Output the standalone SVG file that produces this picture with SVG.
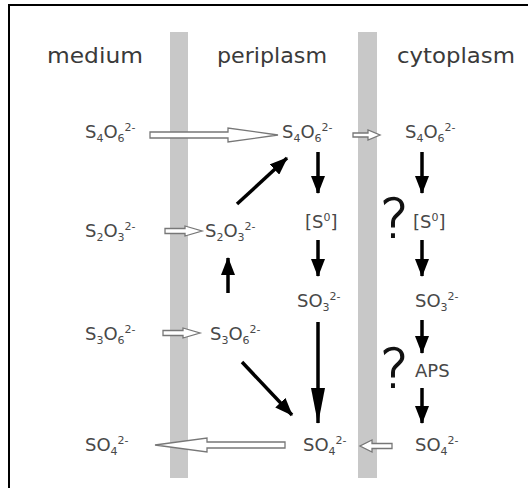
<svg xmlns="http://www.w3.org/2000/svg" width="528" height="488" viewBox="0 0 528 488">
<style>
.hdr{font-family:"DejaVu Sans",sans-serif;font-size:22px;fill:#3a3a3a;text-anchor:middle}
.f{font-family:"DejaVu Sans",sans-serif;font-size:18px;fill:#484848}
.s{font-size:11px}
.q{font-family:"DejaVu Sans",sans-serif;font-size:54px;font-weight:200;fill:#111;stroke:#111;stroke-width:1.3}
.mem{fill:#c8c8c8}
.open{fill:#fff;stroke:#777;stroke-width:1.3;stroke-linejoin:miter}
.blk{stroke:#000;stroke-width:3.5;fill:none}
</style>
<defs>
<marker id="ah" markerUnits="userSpaceOnUse" markerWidth="18" markerHeight="14" refX="17" refY="7" orient="auto">
<path d="M0,0 L18,7 L0,14 Z" fill="#000"/>
</marker>
<marker id="ahl" markerUnits="userSpaceOnUse" markerWidth="36" markerHeight="14" refX="35" refY="7" orient="auto">
<path d="M0,0 L36,7 L0,14 Z" fill="#000"/>
</marker>
</defs>
<rect x="0" y="0" width="528" height="488" fill="#fff"/>
<rect x="9" y="5" width="540" height="500" fill="none" stroke="#000" stroke-width="2"/>
<g id="membranes">
<rect class="mem" x="170" y="32" width="18" height="446"/>
<rect class="mem" x="358" y="32" width="19" height="446"/>
</g>
<g id="headers">
<text class="hdr" x="95" y="63" textLength="96" lengthAdjust="spacingAndGlyphs">medium</text>
<text class="hdr" x="272" y="63" textLength="110" lengthAdjust="spacingAndGlyphs">periplasm</text>
<text class="hdr" x="456" y="63" textLength="118" lengthAdjust="spacingAndGlyphs">cytoplasm</text>
</g>
<g id="connectors">
<path class="open" d="M150,132 H228 V128 L278,135 L228,142 V138 H150 Z"/>
<path class="open" d="M353,133 H368 V130 L380,135 L368,140 V137 H353 Z"/>
<path class="open" d="M165,228.5 H185 V226 L202,231 L185,236 V233.5 H165 Z"/>
<path class="open" d="M163,330.5 H183 V328 L200,333 L183,338 V335.5 H163 Z"/>
<path class="open" d="M285,442 H207 V438 L155,445 L207,452 V448 H285 Z"/>
<path class="open" d="M392,443.5 H372 V440 L360,446 L372,452 V448.5 H392 Z"/>
<line class="blk" x1="318" y1="152" x2="318" y2="193" marker-end="url(#ah)"/>
<line class="blk" x1="422" y1="152" x2="422" y2="193" marker-end="url(#ah)"/>
<line class="blk" x1="318" y1="240" x2="318" y2="276" marker-end="url(#ah)"/>
<line class="blk" x1="422" y1="240" x2="422" y2="276" marker-end="url(#ah)"/>
<line class="blk" x1="237" y1="204" x2="287" y2="158" marker-end="url(#ah)"/>
<line class="blk" x1="228" y1="293" x2="228" y2="258" marker-end="url(#ah)"/>
<line class="blk" x1="318" y1="322" x2="318" y2="423" marker-end="url(#ahl)"/>
<line class="blk" x1="242" y1="362" x2="292" y2="415" marker-end="url(#ah)"/>
<line class="blk" x1="422" y1="320" x2="422" y2="353" marker-end="url(#ah)"/>
<line class="blk" x1="422" y1="388" x2="422" y2="423" marker-end="url(#ah)"/>
</g>
<g id="medium-S4O6"><text class="f" x="85" y="138">S<tspan class="s" dy="4">4</tspan><tspan dy="-4">O</tspan><tspan class="s" dy="4">6</tspan><tspan class="s" dy="-11">2-</tspan></text></g>
<g id="peri-S4O6"><text class="f" x="282" y="138">S<tspan class="s" dy="4">4</tspan><tspan dy="-4">O</tspan><tspan class="s" dy="4">6</tspan><tspan class="s" dy="-11">2-</tspan></text></g>
<g id="cyto-S4O6"><text class="f" x="405" y="138">S<tspan class="s" dy="4">4</tspan><tspan dy="-4">O</tspan><tspan class="s" dy="4">6</tspan><tspan class="s" dy="-11">2-</tspan></text></g>
<g id="medium-S2O3"><text class="f" x="85" y="237">S<tspan class="s" dy="4">2</tspan><tspan dy="-4">O</tspan><tspan class="s" dy="4">3</tspan><tspan class="s" dy="-11">2-</tspan></text></g>
<g id="peri-S2O3"><text class="f" x="205" y="237">S<tspan class="s" dy="4">2</tspan><tspan dy="-4">O</tspan><tspan class="s" dy="4">3</tspan><tspan class="s" dy="-11">2-</tspan></text></g>
<g id="peri-S0"><text class="f" x="305" y="228">[S<tspan class="s" dy="-7">0</tspan><tspan dy="7">]</tspan></text></g>
<g id="cyto-S0"><text class="f" x="413" y="228">[S<tspan class="s" dy="-7">0</tspan><tspan dy="7">]</tspan></text></g>
<g id="q1"><text class="q" x="380" y="237">?</text></g>
<g id="peri-SO3"><text class="f" x="297" y="307">SO<tspan class="s" dy="4">3</tspan><tspan class="s" dy="-11">2-</tspan></text></g>
<g id="cyto-SO3"><text class="f" x="415" y="307">SO<tspan class="s" dy="4">3</tspan><tspan class="s" dy="-11">2-</tspan></text></g>
<g id="medium-S3O6"><text class="f" x="85" y="340">S<tspan class="s" dy="4">3</tspan><tspan dy="-4">O</tspan><tspan class="s" dy="4">6</tspan><tspan class="s" dy="-11">2-</tspan></text></g>
<g id="peri-S3O6"><text class="f" x="210" y="340">S<tspan class="s" dy="4">3</tspan><tspan dy="-4">O</tspan><tspan class="s" dy="4">6</tspan><tspan class="s" dy="-11">2-</tspan></text></g>
<g id="q2"><text class="q" x="380" y="387">?</text></g>
<g id="cyto-APS"><text class="f" x="415" y="377">APS</text></g>
<g id="medium-SO4"><text class="f" x="85" y="451">SO<tspan class="s" dy="4">4</tspan><tspan class="s" dy="-11">2-</tspan></text></g>
<g id="peri-SO4"><text class="f" x="303" y="451">SO<tspan class="s" dy="4">4</tspan><tspan class="s" dy="-11">2-</tspan></text></g>
<g id="cyto-SO4"><text class="f" x="415" y="451">SO<tspan class="s" dy="4">4</tspan><tspan class="s" dy="-11">2-</tspan></text></g>
</svg>
